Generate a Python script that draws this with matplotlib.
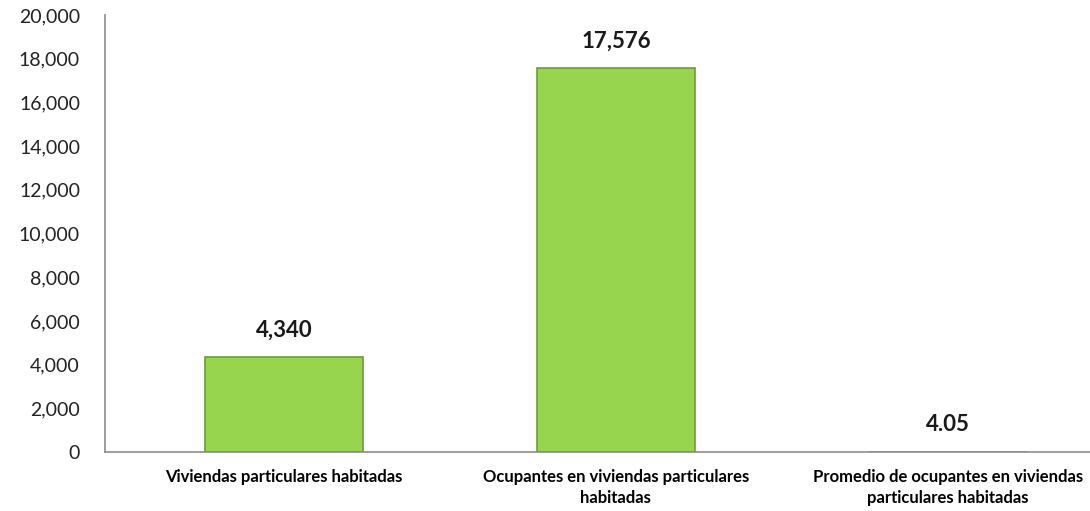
import matplotlib
matplotlib.use("Agg")
import matplotlib.pyplot as plt
import matplotlib.ticker as ticker

categories = ["Viviendas particulares habitadas",
              "Ocupantes en viviendas particulares\nhabitadas",
              "Promedio de ocupantes en viviendas\nparticulares habitadas"]
values = [4340, 17576, 4.05]
value_labels = ["4,340", "17,576", "4.05"]

plt.rcParams['font.family'] = ['Lato', 'DejaVu Sans']

fig = plt.figure(figsize=(10.9, 5.11), dpi=100)
ax = fig.add_axes([105 / 1090, 59 / 511, 985 / 1090, 437 / 511])

x = range(len(categories))
ax.bar(x, values, width=0.476, color="#97D54E", edgecolor="#6F9A3B", linewidth=1.2)

for i, (v, lab) in enumerate(zip(values, value_labels)):
    ax.annotate(lab, (i, v), xytext=(0, 12), textcoords="offset points",
                ha="center", va="bottom", fontsize=16, fontweight="bold", color="#1a1a1a")

ax.set_xlim(-0.539, 2.428)
ax.set_ylim(0, 20000)
ax.set_yticks(range(0, 20001, 2000))
ax.yaxis.set_major_formatter(ticker.FuncFormatter(lambda v, p: f"{int(v):,}"))
ax.set_xticks(list(x))
ax.set_xticklabels(categories, fontsize=12, fontweight="bold", linespacing=1.4)
ax.tick_params(axis="y", length=0, labelsize=14, pad=18, labelcolor="#222222")
ax.tick_params(axis="x", length=0, pad=12)
for s in ["top", "right"]:
    ax.spines[s].set_visible(False)
for s in ["left", "bottom"]:
    ax.spines[s].set_color("#8c8c8c")
    ax.spines[s].set_linewidth(1.2)

fig.savefig("out.png", dpi=100)
